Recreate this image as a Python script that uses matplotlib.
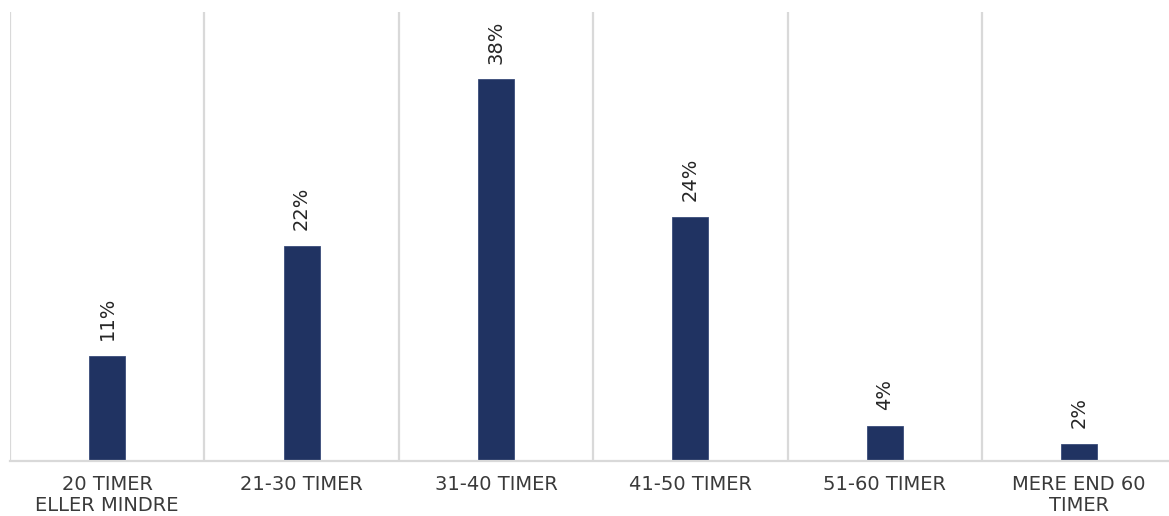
import matplotlib
matplotlib.use("Agg")
import matplotlib.pyplot as plt

categories = ["20 TIMER\nELLER MINDRE", "21-30 TIMER", "31-40 TIMER",
              "41-50 TIMER", "51-60 TIMER", "MERE END 60\nTIMER"]
values = [10.5, 21.6, 38.4, 24.5, 3.5, 1.7]
value_labels = ["11%", "22%", "38%", "24%", "4%", "2%"]

BAR_COLOR = "#203362"
GRID_COLOR = "#d9d9d9"
TEXT_COLOR = "#3a3a3a"

fig = plt.figure(figsize=(11.69, 5.16), dpi=100)
# axes spans slightly beyond right edge, as in the reference
ax = fig.add_axes([10 / 1169, 55.5 / 516, 1166.4 / 1169, 448.5 / 516])

x = list(range(len(categories)))
bars = ax.bar(x, values, width=0.185, color=BAR_COLOR, edgecolor="#3a4c7a",
              linewidth=0.6, zorder=3)

ax.set_xlim(-0.5, len(categories) - 0.5)
ax.set_ylim(0, 45.2)

# category divider lines
for i in range(len(categories) + 1):
    ax.axvline(i - 0.5, color=GRID_COLOR, linewidth=1.6, zorder=1)

for s in ["top", "right", "left"]:
    ax.spines[s].set_visible(False)
ax.spines["bottom"].set_color(GRID_COLOR)
ax.spines["bottom"].set_linewidth(1.6)
ax.spines["bottom"].set_zorder(4)

ax.set_yticks([])
ax.set_xticks(x)
ax.set_xticklabels(categories, fontsize=14, color=TEXT_COLOR,
                   linespacing=1.12, family="DejaVu Sans")
ax.tick_params(axis="x", length=0, pad=10.5)

for xi, v, lab in zip(x, values, value_labels):
    ax.annotate(lab, xy=(xi, v), xytext=(0, 11.5), textcoords="offset points",
                rotation=90, ha="center", va="bottom", fontsize=14,
                color="#262626", family="DejaVu Sans")

fig.savefig("out.png", dpi=100)
